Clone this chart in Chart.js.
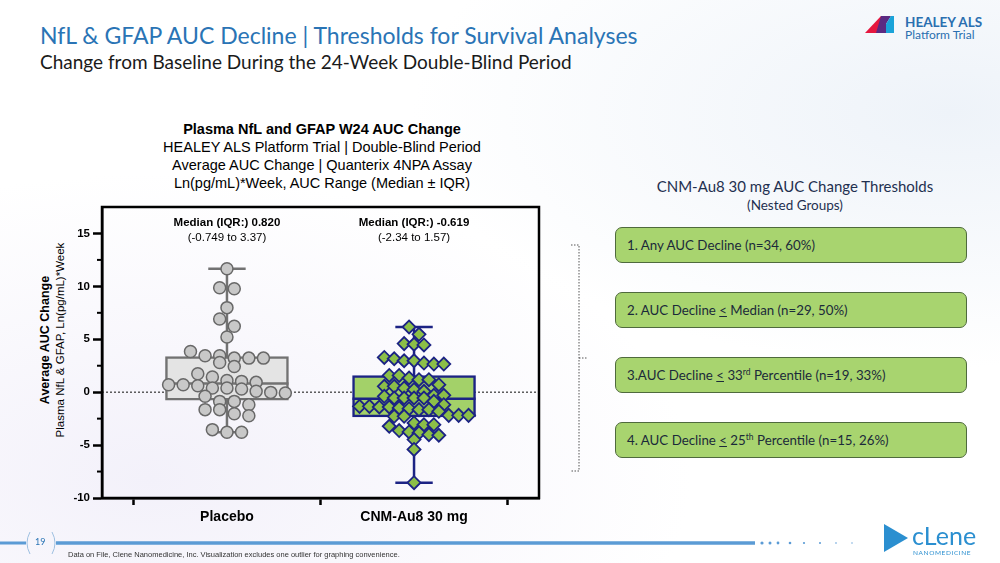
<!DOCTYPE html>
<html>
<head>
<meta charset="utf-8">
<script src="https://cdn.jsdelivr.net/npm/chart.js@4"></script>
<style>
  html, body { margin: 0; padding: 0; }
  body { width: 1000px; height: 563px; position: relative; overflow: hidden;
         background: radial-gradient(ellipse at 15% 85%, #f3f1fa 0%, rgba(255,255,255,0) 45%),
                     radial-gradient(ellipse at 95% 20%, #eef3f9 0%, rgba(255,255,255,0) 40%), #ffffff;
         font-family: "Liberation Sans", Arial, sans-serif; }
  .abs { position: absolute; }
  #title { left: 40px; top: 21px; font-family: Lato, sans-serif; font-size: 23px; color: #2a74b5; white-space: nowrap; }
  #subtitle { left: 40px; top: 50px; font-family: Lato, sans-serif; font-size: 19px; color: #1a1a1a; white-space: nowrap; }
  #chartTitle { left: 120px; width: 404px; top: 120px; text-align: center; font-size: 14.5px; line-height: 18px; color: #000; }
  .med { width: 180px; text-align: center; font-size: 11.5px; line-height: 15px; color: #000; top: 215px; }
  #ytitle { left: 53px; top: 340px; width: 300px; transform: translate(-50%, -50%) rotate(-90deg);
            text-align: center; font-size: 11.5px; line-height: 15px; color: #000; white-space: nowrap; }
  #ytitle b { font-size: 12.5px; }
  #panelTitle { left: 610px; width: 370px; top: 177px; text-align: center; font-family: Lato, sans-serif; color: #1f3050; }
  #panelTitle .t1 { font-size: 15px; }
  #panelTitle .t2 { font-size: 13.5px; margin-top: 2px; }
  .thr { left: 615px; width: 339px; height: 34px; border: 1.5px solid #4f6a3d; border-radius: 7px;
         background: #a8d46f; font-family: Lato, sans-serif; font-size: 13.3px; color: #1b2a3a;
         line-height: 34px; padding-left: 11px; box-sizing: content-box; white-space: nowrap; }
  .thr sup { font-size: 8.5px; line-height: 0; }
  #footer { left: 68px; top: 550px; font-size: 7.5px; font-family: "Liberation Sans Narrow", "Liberation Sans", sans-serif; color: #333; }
  #pg { left: 35px; top: 536px; font-size: 9px; color: #2a74b5; font-family: Lato, sans-serif; }
</style>
</head>
<body>
<div id="title" class="abs">NfL &amp; GFAP AUC Decline | Thresholds for Survival Analyses</div>
<div id="subtitle" class="abs">Change from Baseline During the 24-Week Double-Blind Period</div>

<svg class="abs" style="left:860px;top:12px" width="140" height="36">
  <polygon points="5,21 21,4 26,4 26,21" fill="#e5173f"/>
  <polygon points="21,4 31,4 26,12 26,21 16,21" fill="#5a2a82"/>
  <polygon points="26,12 31,4 34,4 34,21 26,21" fill="#1aa3d9"/>
  <text x="45" y="15" font-family="Lato, sans-serif" font-weight="bold" font-size="13.5" fill="#2a6fb0">HEALEY ALS</text>
  <text x="45" y="27" font-family="Lato, sans-serif" font-size="12" fill="#2a6fb0">Platform Trial</text>
</svg>

<div id="chartTitle" class="abs"><b>Plasma NfL and GFAP W24 AUC Change</b><br>HEALEY ALS Platform Trial | Double-Blind Period<br>Average AUC Change | Quanterix 4NPA Assay<br>Ln(pg/mL)*Week, AUC Range (Median ± IQR)</div>

<div id="ytitle" class="abs"><b>Average AUC Change</b><br>Plasma NfL &amp; GFAP, Ln(pg/mL)*Week</div>

<canvas id="c" class="abs" style="left:0;top:195px" width="560" height="340"></canvas>
<div id="med0" class="abs med"></div>
<div id="med1" class="abs med"></div>

<div id="panelTitle" class="abs"><div class="t1">CNM-Au8 30 mg AUC Change Thresholds</div><div class="t2">(Nested Groups)</div></div>
<div class="abs thr" style="top:227px">1. Any AUC Decline (n=34, 60%)</div>
<div class="abs thr" style="top:292px">2. AUC Decline <u>&lt;</u> Median (n=29, 50%)</div>
<div class="abs thr" style="top:357px">3.AUC Decline <u>&lt;</u> 33<sup>rd</sup> Percentile (n=19, 33%)</div>
<div class="abs thr" style="top:422px">4. AUC Decline <u>&lt;</u> 25<sup>th</sup> Percentile (n=15, 26%)</div>

<svg class="abs" style="left:0;top:0" width="1000" height="563">
  <g stroke="#555" stroke-width="1" stroke-dasharray="1.5,1.5" fill="none">
    <polyline points="571,245 579,245 579,471 571,471"/>
    <line x1="579" y1="358" x2="588" y2="358"/>
  </g>
  <line x1="0" y1="543" x2="26" y2="543" stroke="#5b9bd5" stroke-width="3"/>
  <path d="M30,532 Q24,543 30,554" stroke="#9dbfe0" stroke-width="1" fill="none"/>
  <path d="M52,532 Q58,543 52,554" stroke="#9dbfe0" stroke-width="1" fill="none"/>
  <line x1="56" y1="543" x2="755" y2="543" stroke="#5b9bd5" stroke-width="3.5"/>
  <g fill="#5b9bd5">
    <circle cx="762" cy="543" r="1.6"/><circle cx="770" cy="543" r="1.5"/><circle cx="778" cy="543" r="1.4"/>
    <circle cx="790" cy="543" r="1.3"/><circle cx="804" cy="543" r="1.1"/><circle cx="820" cy="543" r="1"/>
    <circle cx="836" cy="543" r="0.8"/><circle cx="852" cy="543" r="0.7"/>
  </g>
  <polygon points="884,524 908,538 884,552" fill="#2b8fd0"/>
  <text x="912" y="545" font-family="Lato, sans-serif" font-size="25" fill="#2b8fd0">cLene</text>
  <text x="913" y="555" font-family="Lato, sans-serif" font-size="6.5" fill="#2b8fd0" letter-spacing="0.6">NANOMEDICINE</text>
</svg>
<div id="pg" class="abs">19</div>
<div id="footer" class="abs">Data on File, Clene Nanomedicine, Inc. Visualization excludes one outlier for graphing convenience.</div>

<script>
const groups = ['Placebo', 'CNM-Au8 30 mg'];
const placeboValues = [11.67, 9.87, 9.78, 7.99, 6.92, 6.23, 5.22,
  3.85, 3.44, 3.44, 3.22, 3.22, 3.22, 2.81, 2.43, 1.75, 1.43,
  1.11, 1.02, 0.93, 0.71, 0.71, 0.61, 0.39, 0.39, 0.30,
  0.08, -0.02, -0.08, -0.39, -0.87, -0.87, -1.18, -1.65, -1.65,
  -2.03, -2.22, -3.54, -3.79, -3.79];
const cnmValues = [6.16, 5.47, 4.59, 4.53, 4.46,
  3.28, 3.16, 2.97, 2.97, 2.75, 2.66, 2.66,
  1.58, 1.58, 1.34, 1.18, 1.18, 0.71, 0.55, 0.55, 0.39, 0.24, 0.08,
  -0.30, -0.30, -0.39, -0.55, -0.55, -0.55, -0.55, -0.87,
  -1.18, -1.34, -1.34, -1.40, -1.40, -1.49, -1.56, -1.65, -1.65, -1.81,
  -2.19, -2.19, -2.19, -2.28, -2.28,
  -2.91, -3.07, -3.07, -3.22, -3.63, -3.76, -3.85, -4.01, -4.07, -4.48, -5.41, -8.55];
const medians = [0.820, -0.619];
const q1 = [-0.749, -2.34];
const q3 = [3.37, 1.57];
const medianLabels = ['Median (IQR:) 0.820', 'Median (IQR:) -0.619'];
const iqrLabels = ['(-0.749 to 3.37)', '(-2.34 to 1.57)'];
const yTickLabels = [-10, -5, 0, 5, 10, 15];

const X_MIN = -0.668, X_MAX = 1.668;
const BOX_HALF = 0.329, CAP_HALF = 0.1;
const groupValues = [placeboValues, cnmValues];
const lineColors = ['#727272', '#1c2384'];
const boxFills = ['#e4e4e4', '#a3d169'];

// Prism-like row swarm: close values share a row and spread sideways
function swarm(values, center, step, rowH) {
  const sorted = [...values].sort((a, b) => b - a);
  const rows = [];
  let cur = null;
  sorted.forEach(v => {
    if (!cur || cur[0] - v > rowH) { cur = [v]; rows.push(cur); } else cur.push(v);
  });
  const pts = [];
  rows.forEach(r => r.forEach((v, i) => pts.push({ x: center + (i - (r.length - 1) / 2) * step, y: v })));
  return pts;
}

function seg(x1, y1, x2, y2) { return [{ x: x1, y: y1 }, { x: x2, y: y2 }]; }

const datasets = [];
// zero reference line
datasets.push({ type: 'line', data: seg(X_MIN, 0, X_MAX, 0), borderColor: '#333', borderWidth: 1.2,
  borderDash: [2, 2], pointRadius: 0, order: 9 });
groupValues.forEach((vals, g) => {
  const lo = Math.min(...vals), hi = Math.max(...vals);
  const common = { type: 'line', borderColor: lineColors[g], borderWidth: 2.5, pointRadius: 0 };
  datasets.push({ ...common, data: seg(g, lo, g, hi), order: 8 });
  datasets.push({ ...common, data: seg(g - CAP_HALF, hi, g + CAP_HALF, hi), order: 8 });
  datasets.push({ ...common, data: seg(g - CAP_HALF, lo, g + CAP_HALF, lo), order: 8 });
  datasets.push({ ...common, data: seg(g - BOX_HALF, medians[g], g + BOX_HALF, medians[g]), order: 6 });
});
// IQR boxes as floating bars
datasets.push({ type: 'bar', data: groups.map((_, g) => ({ x: g, y: [q1[g], q3[g]] })),
  backgroundColor: boxFills, borderColor: lineColors, borderWidth: 2.5, borderSkipped: false,
  grouped: false, barThickness: 123, order: 7 });
datasets.push({ type: 'scatter', data: swarm(placeboValues, 0, 0.078, 0.9), pointStyle: 'circle', pointRadius: 6,
  backgroundColor: '#c8c8c8', borderColor: '#686868', borderWidth: 1.5, order: 1 });
datasets.push({ type: 'scatter', data: swarm(cnmValues, 1, 0.053, 0.9), pointStyle: 'rectRot', pointRadius: 6.5,
  backgroundColor: '#8cbf48', borderColor: '#1c2384', borderWidth: 1.8, order: 1 });

const framePlugin = {
  id: 'frame',
  afterDraw(chart) {
    const { ctx, chartArea: a, scales } = chart;
    ctx.save();
    ctx.strokeStyle = '#000';
    ctx.lineWidth = 2.5;
    ctx.strokeRect(a.left, a.top, a.right - a.left, a.bottom - a.top);
    // minor ticks on y axis
    ctx.lineWidth = 2;
    scales.y.ticks.forEach(t => {
      if (t.value % 5 !== 0) {
        const py = scales.y.getPixelForValue(t.value);
        ctx.beginPath(); ctx.moveTo(a.left - 5, py); ctx.lineTo(a.left, py); ctx.stroke();
      }
    });
    ctx.restore();
  }
};

const chart = new Chart(document.getElementById('c'), {
  data: { datasets },
  options: {
    responsive: false,
    animation: false,
    layout: { padding: { top: 12, right: 21, left: 0, bottom: 0 } },
    plugins: { legend: { display: false }, tooltip: { enabled: false } },
    scales: {
      x: {
        type: 'linear', min: X_MIN, max: X_MAX, offset: false,
        afterBuildTicks: s => { s.ticks = groups.map((_, i) => ({ value: i })); },
        afterFit: s => { s.height = 37; },
        ticks: { callback: v => groups[v], color: '#000', font: { family: 'Liberation Sans', size: 14, weight: 'bold' }, padding: 4, maxRotation: 0 },
        grid: { drawOnChartArea: false, tickLength: 7, tickWidth: 2.5, tickColor: '#000' },
        border: { color: '#000', width: 2.5 }
      },
      y: {
        type: 'linear', min: -10, max: 17.5,
        afterBuildTicks: s => {
          const t = [];
          for (let v = -10; v <= 15; v += 2.5) t.push({ value: v });
          s.ticks = t;
        },
        afterFit: s => { s.width = 102; },
        ticks: { callback: v => (yTickLabels.includes(v) ? String(v) : ''), color: '#000',
          font: { family: 'Liberation Sans', size: 11.5, weight: 'bold' }, padding: 3 },
        grid: { drawOnChartArea: false, tickLength: 9, tickWidth: 2.5,
          tickColor: c => (c.tick && c.tick.value % 5 === 0 ? '#000' : 'rgba(0,0,0,0)') },
        border: { color: '#000', width: 2.5 }
      }
    }
  },
  plugins: [framePlugin]
});

// median annotations centred over each group
groups.forEach((_, g) => {
  const el = document.getElementById('med' + g);
  el.innerHTML = '<b>' + medianLabels[g] + '</b><br>' + iqrLabels[g];
  el.style.left = (chart.scales.x.getPixelForValue(g) - 90) + 'px';
});
</script>
</body>
</html>
